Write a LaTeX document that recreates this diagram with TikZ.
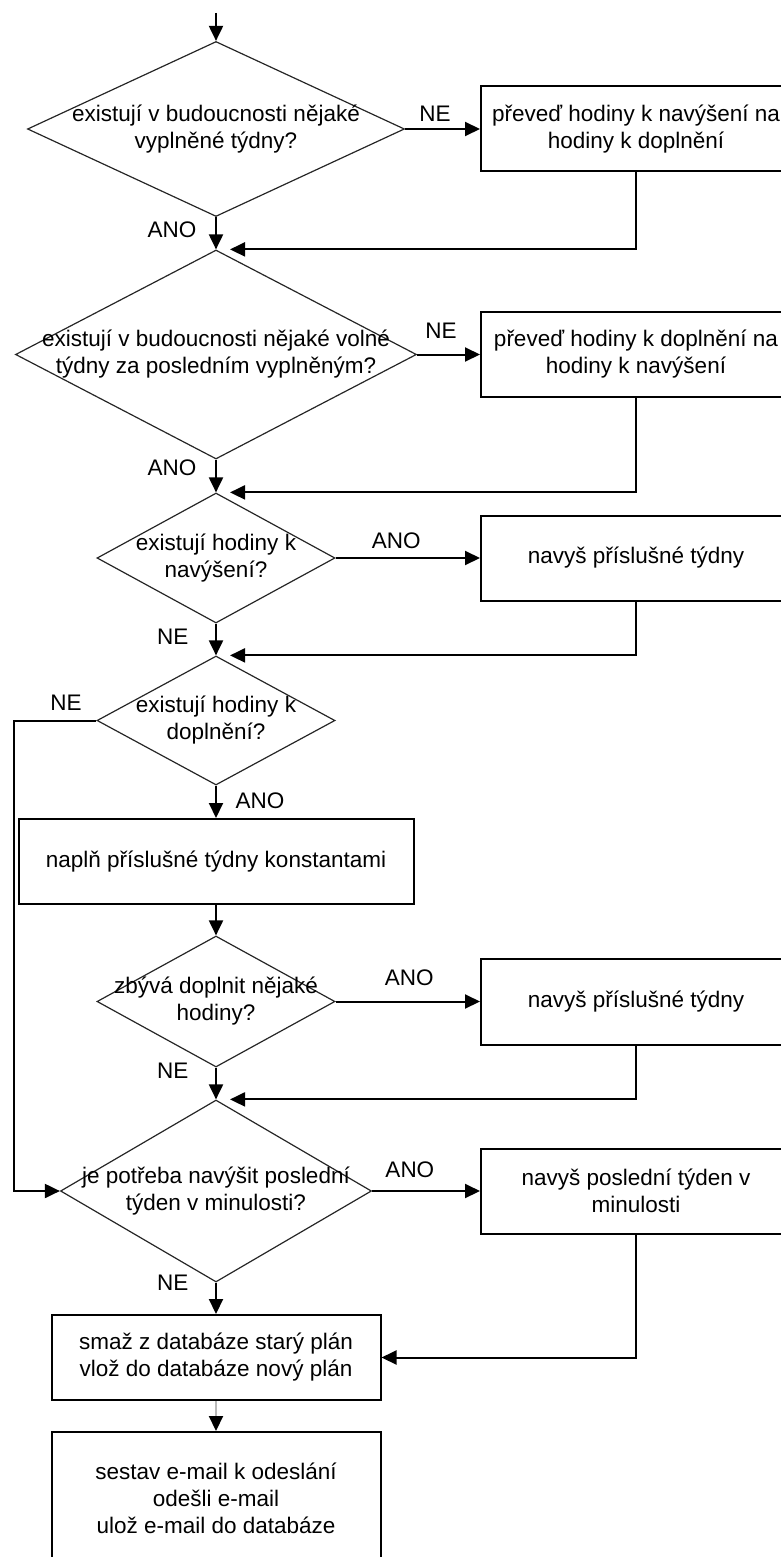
\documentclass[tikz,border=0pt]{standalone}
\usepackage{fontspec}
\setmainfont{Liberation Sans}
\usetikzlibrary{shapes.geometric,arrows.meta}
\tikzset{
  every node/.style={font=\fontsize{11.25}{13.5}\selectfont},
  dec/.style 2 args={diamond, draw=black!85, line width=0.6pt, inner sep=0pt, minimum width=#1, minimum height=#2},
  box/.style 2 args={rectangle, draw, line width=1pt, minimum width=#1, minimum height=#2, align=center},
  txt/.style={align=center},
  arr/.style={line width=1pt, -{Triangle[length=7.5pt,width=7pt]}}
}
\begin{document}
\begin{tikzpicture}[x=0.5pt,y=-0.5pt]
   \useasboundingbox (0,0) rectangle (781,1557);
   \coordinate (start) at (216,13);
   \coordinate (rail) at (14,720.5);
   \node[dec={188.5pt}{87.5pt}, label={[txt]center:existují v budoucnosti nějaké\\vyplněné týdny?}] (q1) at (216,129) {};
   \node[box={155pt}{42.5pt}] (b1) at (636,129) {převeď hodiny k navýšení na\\hodiny k doplnění};
   \node[dec={200.5pt}{104.5pt}, label={[txt]center:existují v budoucnosti nějaké volné\\týdny za posledním vyplněným?}] (q2) at (216,354.5) {};
   \node[box={155pt}{42.5pt}] (b2) at (636,354.5) {převeď hodiny k doplnění na\\hodiny k navýšení};
   \node[dec={119pt}{65pt}, label={[txt]center:existují hodiny k\\navýšení?}] (q3) at (216,558) {};
   \node[box={155pt}{42.5pt}] (b3) at (636,558) {navyš příslušné týdny};
   \node[dec={119pt}{64.5pt}, label={[txt]center:existují hodiny k\\doplnění?}] (q4) at (216,720.5) {};
   \node[box={197.5pt}{42.5pt}] (b4) at (216,861.5) {naplň příslušné týdny konstantami};
   \node[dec={119pt}{65.5pt}, label={[txt]center:zbývá doplnit nějaké\\hodiny?}] (q5) at (216,1001.5) {};
   \node[box={155pt}{43pt}] (b5) at (636,1001.5) {navyš příslušné týdny};
   \node[dec={155.5pt}{91pt}, label={[txt]center:je potřeba navýšit poslední\\týden v minulosti?}] (q6) at (216,1191) {};
   \node[box={155pt}{42.5pt}] (b6) at (636,1191) {navyš poslední týden v\\minulosti};
   \node[box={164.5pt}{42.5pt}] (b7) at (216,1357.5) {smaž z databáze starý plán\\vlož do databáze nový plán};
   \node[box={164.5pt}{66pt}] (b8) at (216,1498) {sestav e-mail k odeslání\\odešli e-mail\\ulož e-mail do databáze};
   \draw[arr] (start) -- (q1.north);
   \draw[arr] (q1.east) -- node[above,pos=0.4] (ne1) {NE} (b1.west);
   \draw[arr] (q1.south) -- node[left=6pt,pos=0.4] (ano1) {ANO} (q2.north);
   \draw[arr] (b1.south) |- ([xshift=7pt]q2.north);
   \draw[arr] (q2.east) -- node[above=4pt,pos=0.38] (ne2) {NE} (b2.west);
   \draw[arr] (q2.south) -- node[left=6pt,pos=0.24] (ano2) {ANO} (q3.north);
   \draw[arr] (b2.south) |- ([xshift=7pt]q3.north);
   \draw[arr] (q3.east) -- node[above=1pt,pos=0.42] (ano3) {ANO} (b3.west);
   \draw[arr] (q3.south) -- node[left=10pt,pos=0.42] (ne3) {NE} (q4.north);
   \draw[arr] (b3.south) |- ([xshift=7pt]q4.north);
   \draw[arr] (q4.west) -- node[above=1pt,pos=0.37] (ne4) {NE} (rail) |- (q6.west);
   \draw[arr] (q4.south) -- node[right=6pt,pos=0.47] (ano4) {ANO} (b4.north);
   \draw[arr] (b4.south) -- (q5.north);
   \draw[arr] (q5.east) -- node[above=4pt,pos=0.51] (ano5) {ANO} (b5.west);
   \draw[arr] (q5.south) -- node[left=10pt,pos=0.09] (ne5) {NE} (q6.north);
   \draw[arr] (b5.south) |- ([xshift=7pt]q6.north);
   \draw[arr] (q6.east) -- node[above=3pt,pos=0.35] (ano6) {ANO} (b6.west);
   \draw[arr] (q6.south) -- node[left=10pt,pos=0] (ne6) {NE} (b7.north);
   \draw[arr] (b6.south) |- (b7.east);
   \draw[line width=1pt, draw=gray!55, -{Triangle[length=7.5pt,width=7pt,color=black]}] (b7.south) -- (b8.north);
\end{tikzpicture}
\end{document}
